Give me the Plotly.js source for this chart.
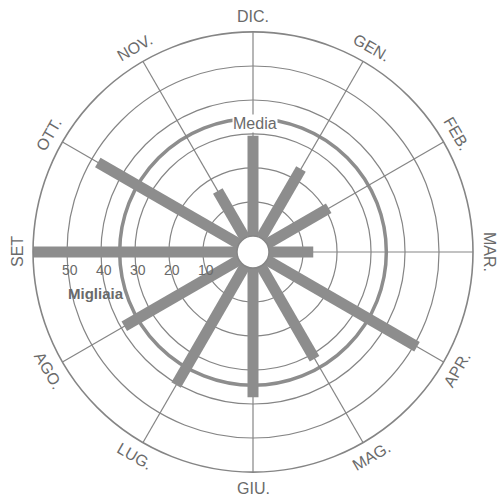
<!DOCTYPE html>
<html>
<head>
<meta charset="utf-8">
<script src="https://cdn.plot.ly/plotly-3.0.1.min.js"></script>
<style>html,body{margin:0;padding:0;background:#fff;}#chart{width:499px;height:499px;}</style>
</head>
<body>
<div id="chart"></div>
<script>
// Months clockwise starting from the top
const months = ['DIC.', 'GEN.', 'FEB.', 'MAR.', 'APR.', 'MAG.', 'GIU.', 'LUG.', 'AGO.', 'SET', 'OTT.', 'NOV.'];
// Values (migliaia), same order
const values = [29.5, 23.5, 21, 13, 51, 31.5, 38, 40.5, 39, 62, 48, 16];
const mediaValue = 34.5;
const radialTicks = [10, 20, 30, 40, 50, 60];
const radialLabelVals = [10, 20, 30, 40, 50];
const unitLabel = 'Migliaia';
const mediaLabel = 'Media';

const W = 499, H = 499;
const CX = 253, CY = 252, R = 220, HOLE = 0.073;
const RMAX = 60;
const domX = [(CX - R) / W, (CX + R) / W];
const domY = [(H - CY - R) / H, (H - CY + R) / H];
const BAR = '#8d8d8d', GRID = '#858585', TXT = '#6a6a6a';
const FONT = '"Liberation Sans", Arial, sans-serif';

function rpx(v) { return R * HOLE + (v / RMAX) * R * (1 - HOLE); }

const traces = [];
// media layer (drawn underneath)
traces.push({type: 'scatterpolar', subplot: 'polar', r: [mediaValue], theta: [months[0]], mode: 'none', hoverinfo: 'skip'});
// bars as thick radial strokes
months.forEach((m, i) => {
  traces.push({
    type: 'scatterpolar', subplot: 'polar2',
    r: [0, values[i]], theta: [m, m], mode: 'lines',
    line: {color: BAR, width: 11}, cliponaxis: false, hoverinfo: 'skip'
  });
});

const annotations = months.map((m, i) => {
  const a = 30 * i; // clockwise from top
  const rad = a * Math.PI / 180;
  const rr = 236;
  let ta = a;
  if (ta > 90 && ta < 270) ta -= 180; else if (ta >= 270) ta -= 360;
  return {
    xref: 'paper', yref: 'paper', showarrow: false,
    x: (CX + rr * Math.sin(rad)) / W, y: (H - CY + rr * Math.cos(rad)) / H,
    xanchor: 'center', yanchor: 'middle', text: m, textangle: ta,
    font: {family: FONT, size: 16, color: TXT}
  };
});
// radial scale labels along the SET (left) spoke, just below it
radialLabelVals.forEach(v => {
  annotations.push({
    xref: 'paper', yref: 'paper', showarrow: false,
    x: (CX - rpx(v) + 3) / W, y: (H - CY - 18) / H,
    xanchor: 'center', yanchor: 'middle', text: String(v),
    font: {family: FONT, size: 14, color: TXT}
  });
});
annotations.push({
  xref: 'paper', yref: 'paper', showarrow: false,
  x: (CX + 2) / W, y: (H - CY + rpx(mediaValue) - 5) / H,
  xanchor: 'center', yanchor: 'middle', text: mediaLabel,
  bgcolor: '#ffffff', borderpad: 0,
  font: {family: FONT, size: 16, color: TXT}
});
annotations.push({
  xref: 'paper', yref: 'paper', showarrow: false,
  x: 96 / W, y: (H - 293) / H, xanchor: 'center', yanchor: 'middle',
  text: '<b>' + unitLabel + '</b>',
  font: {family: FONT, size: 15, color: TXT}
});

const layout = {
  width: W, height: H, margin: {l: 0, r: 0, t: 0, b: 0},
  paper_bgcolor: '#ffffff', showlegend: false,
  polar: {
    domain: {x: domX, y: domY}, hole: HOLE, bgcolor: '#ffffff',
    radialaxis: {range: [0, RMAX], tickvals: [mediaValue], showticklabels: false, ticks: '',
      showline: false, gridcolor: BAR, gridwidth: 3.5},
    angularaxis: {type: 'category', categoryarray: months, direction: 'clockwise', rotation: 90,
      showgrid: false, showline: false, showticklabels: false, ticks: ''}
  },
  polar2: {
    domain: {x: domX, y: domY}, hole: HOLE, bgcolor: 'rgba(0,0,0,0)',
    radialaxis: {range: [0, RMAX], tickvals: radialTicks, showticklabels: false,
      angle: 180, showline: false, ticks: '',
      gridcolor: GRID, gridwidth: 1.2},
    angularaxis: {type: 'category', categoryarray: months, direction: 'clockwise', rotation: 90,
      showticklabels: false, ticks: '', gridcolor: GRID, gridwidth: 1.2,
      showline: true, linecolor: GRID, linewidth: 1.6}
  },
  annotations: annotations
};

Plotly.newPlot('chart', traces, layout, {staticPlot: true, displayModeBar: false});
</script>
</body>
</html>
